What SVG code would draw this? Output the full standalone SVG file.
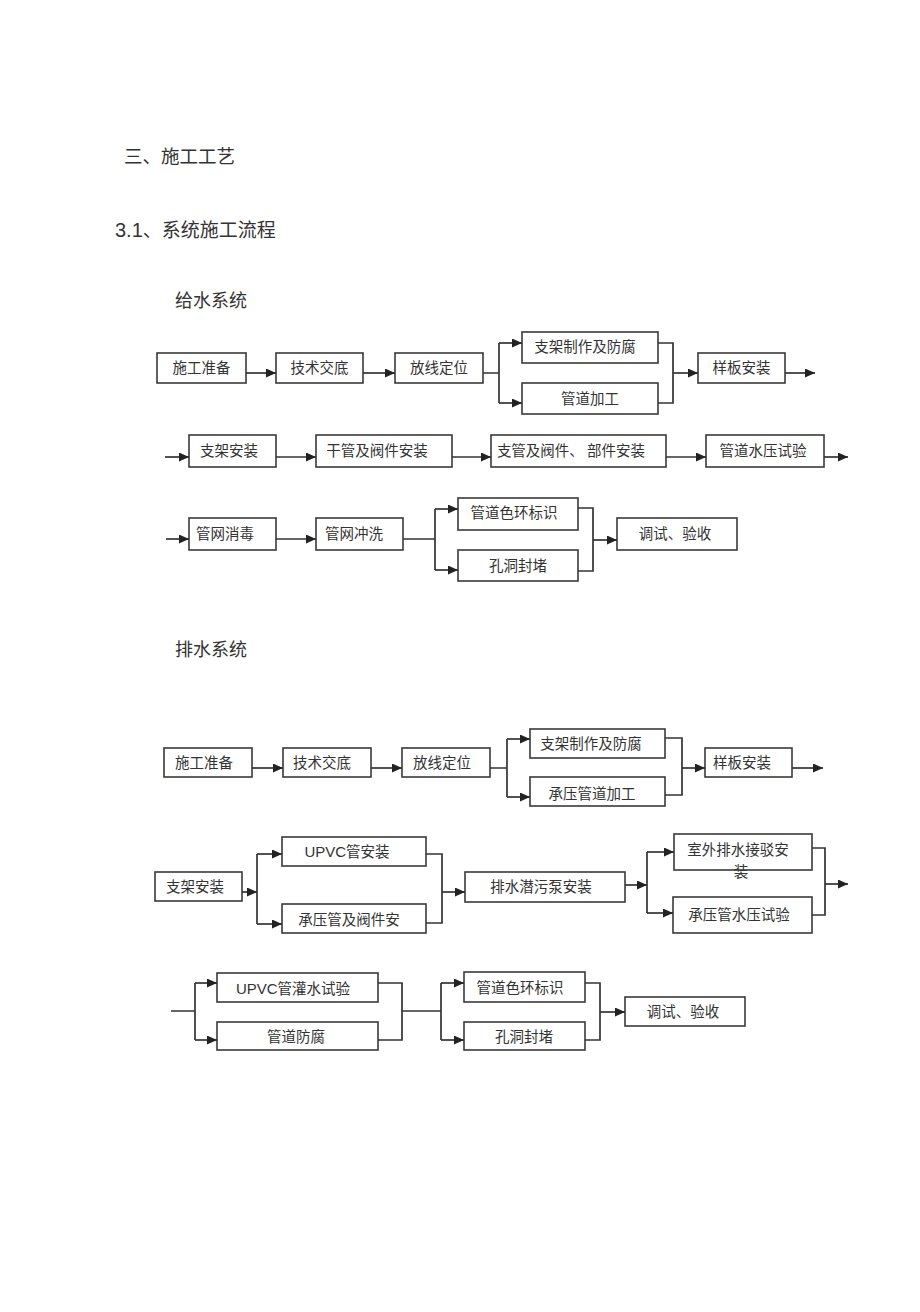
<svg xmlns="http://www.w3.org/2000/svg" width="920" height="1312" viewBox="0 0 920 1312">
<style>
.bg{fill:#fff}
.b{fill:#fff;stroke:#3a3a3a;stroke-width:1.6}
.t{font-family:"Noto Sans CJK SC","Liberation Serif",serif;font-size:14.5px;fill:#333;text-anchor:middle}
.h{font-family:"Noto Sans CJK SC","Liberation Sans",sans-serif;fill:#333}
.l{font-family:"Liberation Sans",Arial,sans-serif}
.c{fill:none;stroke:#333;stroke-width:1.7}
.a{marker-end:url(#ar)}
</style>
<defs>
<marker id="ar" markerUnits="userSpaceOnUse" markerWidth="10" markerHeight="9" refX="10" refY="4.5" orient="auto">
<path d="M0,0 L10,4.5 L0,9 z" fill="#222"/>
</marker>
</defs>
<rect class="bg" x="0" y="0" width="920" height="1312"/>

<g id="headings">
<text class="h" x="124" y="163" font-size="18.5">三、施工工艺</text>
<text class="h" x="115" y="237" font-size="19"><tspan class="l" font-size="20">3.1</tspan>、系统施工流程</text>
<text class="h" x="175" y="307" font-size="18">给水系统</text>
<text class="h" x="175" y="656" font-size="18">排水系统</text>
</g>

<!-- Water supply -->
<g id="w1"><rect class="b" x="157" y="353" width="89" height="30"/><text class="t" x="201.5" y="373">施工准备</text></g>
<g id="w2"><rect class="b" x="276" y="353" width="87" height="30"/><text class="t" x="319.5" y="373">技术交底</text></g>
<g id="w3"><rect class="b" x="395" y="353" width="88" height="30"/><text class="t" x="439" y="373">放线定位</text></g>
<g id="w4"><rect class="b" x="522" y="332" width="136" height="31"/><text class="t" x="585" y="352">支架制作及防腐</text></g>
<g id="w5"><rect class="b" x="522" y="383" width="136" height="31"/><text class="t" x="590" y="404">管道加工</text></g>
<g id="w6"><rect class="b" x="698" y="353" width="87" height="30"/><text class="t" x="741.5" y="373">样板安装</text></g>
<g id="w7"><rect class="b" x="189" y="435" width="87" height="32"/><text class="t" x="229" y="456">支架安装</text></g>
<g id="w8"><rect class="b" x="316" y="435" width="136" height="32"/><text class="t" x="377" y="456">干管及阀件安装</text></g>
<g id="w9"><rect class="b" x="491" y="435" width="175" height="32"/><text class="t" x="571" y="456">支管及阀件、 部件安装</text></g>
<g id="w10"><rect class="b" x="706" y="435" width="118" height="32"/><text class="t" x="763" y="456">管道水压试验</text></g>
<g id="w11"><rect class="b" x="189" y="518" width="87" height="32"/><text class="t" x="225" y="539">管网消毒</text></g>
<g id="w12"><rect class="b" x="316" y="518" width="87" height="32"/><text class="t" x="354" y="539">管网冲洗</text></g>
<g id="w13"><rect class="b" x="458" y="498" width="120" height="32"/><text class="t" x="514" y="518">管道色环标识</text></g>
<g id="w14"><rect class="b" x="458" y="550" width="120" height="31"/><text class="t" x="518" y="571">孔洞封堵</text></g>
<g id="w15"><rect class="b" x="617" y="518" width="120" height="32"/><text class="t" x="675" y="539">调试、验收</text></g>

<!-- Drainage -->
<g id="d1"><rect class="b" x="164" y="748" width="88" height="29"/><text class="t" x="204" y="768">施工准备</text></g>
<g id="d2"><rect class="b" x="283" y="748" width="88" height="29"/><text class="t" x="322" y="768">技术交底</text></g>
<g id="d3"><rect class="b" x="402" y="748" width="88" height="29"/><text class="t" x="442" y="768">放线定位</text></g>
<g id="d4"><rect class="b" x="530" y="729" width="135" height="29"/><text class="t" x="591" y="749">支架制作及防腐</text></g>
<g id="d5"><rect class="b" x="530" y="777" width="135" height="29"/><text class="t" x="592" y="799">承压管道加工</text></g>
<g id="d6"><rect class="b" x="705" y="748" width="87" height="29"/><text class="t" x="742" y="768">样板安装</text></g>
<g id="d7"><rect class="b" x="155" y="872" width="87" height="29"/><text class="t" x="195" y="892">支架安装</text></g>
<g id="d8"><rect class="b" x="282" y="837" width="144" height="29"/><text class="t" x="347" y="857"><tspan class="l" font-size="15">UPVC</tspan>管安装</text></g>
<g id="d9"><rect class="b" x="282" y="904" width="144" height="29"/><text class="t" x="349" y="925">承压管及阀件安</text></g>
<g id="d10"><rect class="b" x="465" y="872" width="160" height="30"/><text class="t" x="541" y="892">排水潜污泵安装</text></g>
<g id="d11"><rect class="b" x="674" y="834" width="138" height="36"/><text class="t" x="738" y="855">室外排水接驳安</text><text class="t" x="741" y="877">装</text></g>
<g id="d12"><rect class="b" x="673" y="897" width="139" height="36"/><text class="t" x="739" y="920">承压管水压试验</text></g>
<g id="d13"><rect class="b" x="217" y="973" width="161" height="29"/><text class="t" x="293" y="994"><tspan class="l" font-size="15">UPVC</tspan>管灌水试验</text></g>
<g id="d14"><rect class="b" x="217" y="1022" width="161" height="28"/><text class="t" x="296" y="1042">管道防腐</text></g>
<g id="d15"><rect class="b" x="464" y="972" width="121" height="30"/><text class="t" x="520" y="993">管道色环标识</text></g>
<g id="d16"><rect class="b" x="464" y="1022" width="121" height="28"/><text class="t" x="524" y="1042">孔洞封堵</text></g>
<g id="d17"><rect class="b" x="625" y="997" width="120" height="29"/><text class="t" x="683" y="1017">调试、验收</text></g>

<g id="connectors">
<!-- water row 1 -->
<path class="c a" d="M246,373 H276"/>
<path class="c a" d="M363,373 H395"/>
<path class="c" d="M483,373 H499 M499,343 V403"/>
<path class="c a" d="M499,343 H522"/>
<path class="c a" d="M499,403 H522"/>
<path class="c" d="M658,343 H673 V403 H658"/>
<path class="c a" d="M673,373 H698"/>
<path class="c a" d="M785,373 H815"/>
<!-- water row 2 -->
<path class="c a" d="M165,457 H189"/>
<path class="c a" d="M276,457 H316"/>
<path class="c a" d="M452,457 H491"/>
<path class="c a" d="M666,457 H706"/>
<path class="c a" d="M824,457 H848"/>
<!-- water row 3 -->
<path class="c a" d="M166,539 H189"/>
<path class="c a" d="M276,539 H316"/>
<path class="c" d="M403,539 H435 M435,509 V570"/>
<path class="c a" d="M435,509 H458"/>
<path class="c a" d="M435,570 H458"/>
<path class="c" d="M578,508 H593 V571 H578"/>
<path class="c a" d="M593,540 H617"/>
<!-- drainage row 1 -->
<path class="c a" d="M252,768 H283"/>
<path class="c a" d="M371,768 H402"/>
<path class="c" d="M490,768 H507 M507,739 V797"/>
<path class="c a" d="M507,739 H530"/>
<path class="c a" d="M507,797 H530"/>
<path class="c" d="M665,738 H682 V795 H665"/>
<path class="c a" d="M682,768 H705"/>
<path class="c a" d="M792,768 H823"/>
<!-- drainage row 2 -->
<path class="c a" d="M242,892 H257"/>
<path class="c" d="M257,854 V924"/>
<path class="c a" d="M257,854 H282"/>
<path class="c a" d="M257,924 H282"/>
<path class="c" d="M426,854 H442 V923 H426"/>
<path class="c a" d="M442,892 H465"/>
<path class="c a" d="M625,885 H647"/>
<path class="c" d="M647,852 V913"/>
<path class="c a" d="M647,852 H674"/>
<path class="c a" d="M647,913 H673"/>
<path class="c" d="M812,848 H825 V915 H812"/>
<path class="c a" d="M825,884 H848"/>
<!-- drainage row 3 -->
<path class="c" d="M171,1011 H195 M195,983 V1040"/>
<path class="c a" d="M195,983 H217"/>
<path class="c a" d="M195,1040 H217"/>
<path class="c" d="M378,983 H402 V1040 H378 M402,1011 H441 M441,983 V1040"/>
<path class="c a" d="M441,983 H464"/>
<path class="c a" d="M441,1040 H464"/>
<path class="c" d="M585,983 H600 V1040 H585"/>
<path class="c a" d="M600,1012 H625"/>
</g>
</svg>
